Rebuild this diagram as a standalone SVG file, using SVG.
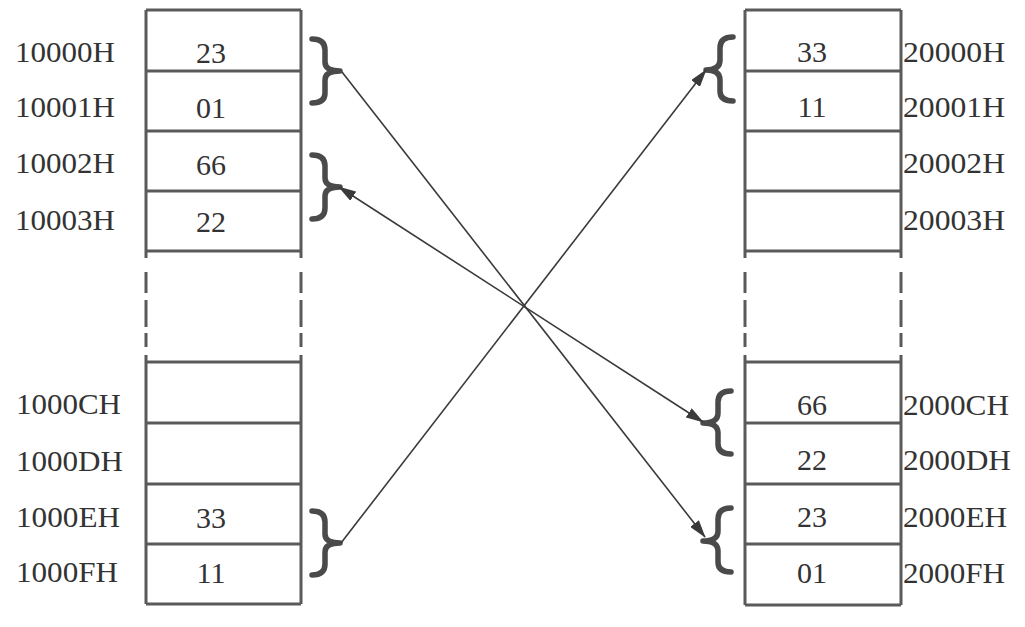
<svg xmlns="http://www.w3.org/2000/svg" width="1025" height="627" viewBox="0 0 1025 627">
<style>
.bg{fill:#ffffff}
.cell{fill:none;stroke:#5a5a5a;stroke-width:3}
.dash{fill:none;stroke:#5a5a5a;stroke-width:3;stroke-dasharray:21 7 27 6 14 100}
.lbl{font-family:"Liberation Serif","Times New Roman",serif;font-size:30px;fill:#333333}
.val{font-family:"Liberation Serif","Times New Roman",serif;font-size:30px;fill:#333333;text-anchor:middle}
.brace{fill:none;stroke:#4a4a4a;stroke-width:5.5;stroke-linecap:round;stroke-linejoin:round}
.conn{fill:none;stroke:#3a3a3a;stroke-width:1.6}
</style>
<defs>
<marker id="ah" viewBox="0 0 18 11" refX="17" refY="5.5" markerWidth="18" markerHeight="11" markerUnits="userSpaceOnUse" orient="auto-start-reverse">
<path d="M0,0 L18,5.5 L0,11 Z" fill="#3a3a3a"/>
</marker>
</defs>
<rect class="bg" x="0" y="0" width="1025" height="627"/>

<g id="left-memory">
<g id="left-top">
<path class="cell" d="M146,10 H301 M146,71 H301 M146,131 H301 M146,191 H301 M146,251 H301 M146,10 V258 M301,10 V258"/>
<path class="dash" d="M146,272 V360 M301,272 V360"/>
</g>
<g id="left-bottom">
<path class="cell" d="M146,362 H301 M146,423 H301 M146,484 H301 M146,544 H301 M146,604 H301 M146,355 V604 M301,355 V604"/>
</g>
<g id="left-labels">
<text class="lbl" x="15" y="62" textLength="100" lengthAdjust="spacingAndGlyphs">10000H</text>
<text class="lbl" x="15" y="117" textLength="100" lengthAdjust="spacingAndGlyphs">10001H</text>
<text class="lbl" x="15" y="173" textLength="100" lengthAdjust="spacingAndGlyphs">10002H</text>
<text class="lbl" x="15" y="230" textLength="100" lengthAdjust="spacingAndGlyphs">10003H</text>
<text class="lbl" x="16" y="414" textLength="105" lengthAdjust="spacingAndGlyphs">1000CH</text>
<text class="lbl" x="16" y="471" textLength="107" lengthAdjust="spacingAndGlyphs">1000DH</text>
<text class="lbl" x="16" y="527" textLength="104" lengthAdjust="spacingAndGlyphs">1000EH</text>
<text class="lbl" x="16" y="582" textLength="102" lengthAdjust="spacingAndGlyphs">1000FH</text>
</g>
<g id="left-values">
<text class="val" x="211" y="63">23</text>
<text class="val" x="211" y="118">01</text>
<text class="val" x="211" y="175">66</text>
<text class="val" x="211" y="232">22</text>
<text class="val" x="211" y="528">33</text>
<text class="val" x="211" y="583">11</text>
</g>
</g>

<g id="right-memory">
<g id="right-top">
<path class="cell" d="M745,10 H901 M745,71 H901 M745,131 H901 M745,191 H901 M745,251 H901 M745,10 V258 M901,10 V258"/>
<path class="dash" d="M745,272 V360 M901,272 V360"/>
</g>
<g id="right-bottom">
<path class="cell" d="M745,362 H901 M745,423 H901 M745,484 H901 M745,544 H901 M745,605 H901 M745,355 V605 M901,355 V605"/>
</g>
<g id="right-labels">
<text class="lbl" x="903" y="62" textLength="102" lengthAdjust="spacingAndGlyphs">20000H</text>
<text class="lbl" x="903" y="117" textLength="102" lengthAdjust="spacingAndGlyphs">20001H</text>
<text class="lbl" x="903" y="173" textLength="102" lengthAdjust="spacingAndGlyphs">20002H</text>
<text class="lbl" x="903" y="230" textLength="102" lengthAdjust="spacingAndGlyphs">20003H</text>
<text class="lbl" x="903" y="415" textLength="106" lengthAdjust="spacingAndGlyphs">2000CH</text>
<text class="lbl" x="903" y="470" textLength="108" lengthAdjust="spacingAndGlyphs">2000DH</text>
<text class="lbl" x="903" y="527" textLength="104" lengthAdjust="spacingAndGlyphs">2000EH</text>
<text class="lbl" x="903" y="583" textLength="102" lengthAdjust="spacingAndGlyphs">2000FH</text>
</g>
<g id="right-values">
<text class="val" x="812" y="62">33</text>
<text class="val" x="812" y="117">11</text>
<text class="val" x="812" y="415">66</text>
<text class="val" x="812" y="470">22</text>
<text class="val" x="812" y="527">23</text>
<text class="val" x="812" y="583">01</text>
</g>
</g>

<g id="braces">
<path id="brace-l1" class="brace" d="M312,39 Q325,39 325,50 V62 Q325,71 340,71 Q325,71 325,80 V93 Q325,103 312,103"/>
<path id="brace-l2" class="brace" d="M312,155 Q325,155 325,166 V178 Q325,187 340,187 Q325,187 325,196 V208 Q325,219 312,219"/>
<path id="brace-l3" class="brace" d="M312,511 Q325,511 325,522 V534 Q325,543 340,543 Q325,543 325,552 V564 Q325,575 312,575"/>
<path id="brace-r1" class="brace" d="M733,37 Q720,37 720,48 V60 Q720,70 706,70 Q720,70 720,80 V91 Q720,101 733,101"/>
<path id="brace-r2" class="brace" d="M731,391 Q718,391 718,402 V413 Q718,423 703,423 Q718,423 718,433 V444 Q718,454 731,454"/>
<path id="brace-r3" class="brace" d="M731,508 Q718,508 718,519 V531 Q718,541 703,541 Q718,541 718,551 V562 Q718,572 731,572"/>
</g>

<g id="connectors">
<line class="conn" x1="342" y1="72" x2="705" y2="537" marker-end="url(#ah)"/>
<line class="conn" x1="339" y1="187" x2="703" y2="422" marker-start="url(#ah)" marker-end="url(#ah)"/>
<line class="conn" x1="341" y1="543" x2="706" y2="70" marker-end="url(#ah)"/>
</g>
</svg>
